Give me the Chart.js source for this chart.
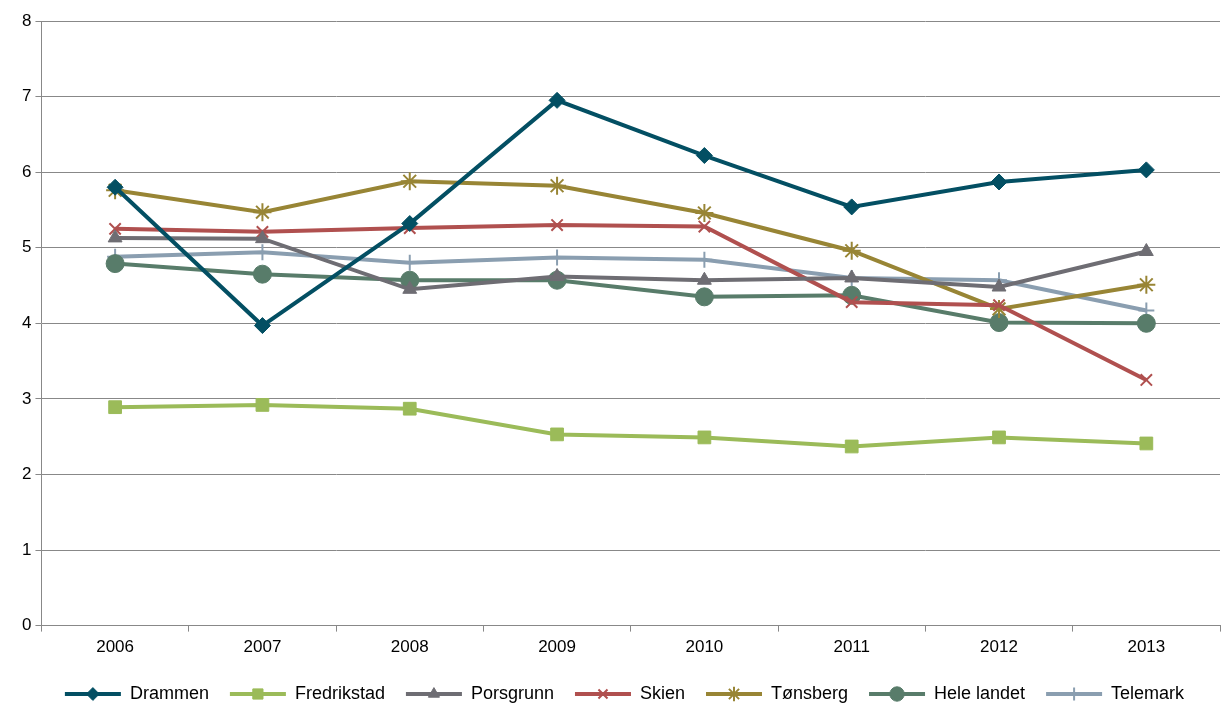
<!DOCTYPE html><html><head><script src="https://cdn.jsdelivr.net/npm/chart.js@4"></script>
<style>html,body{margin:0;background:#fff}#w{width:1231px;height:713px}</style></head><body><div id="w"><canvas id="c"></canvas></div>
<script>
const categories=['2006','2007','2008','2009','2010','2011','2012','2013'];
const drammen=[5.8,3.97,5.32,6.95,6.22,5.54,5.87,6.03];
const fredrikstad=[2.89,2.92,2.87,2.53,2.49,2.37,2.49,2.41];
const porsgrunn=[5.13,5.12,4.45,4.62,4.57,4.6,4.48,4.95];
const skien=[5.25,5.21,5.26,5.3,5.28,4.28,4.24,3.25];
const tonsberg=[5.76,5.47,5.88,5.82,5.46,4.96,4.19,4.51];
const heleLandet=[4.79,4.65,4.57,4.57,4.35,4.37,4.01,4.0];
const telemark=[4.88,4.94,4.8,4.87,4.84,4.6,4.57,4.17];
const yTicks=[0,1,2,3,4,5,6,7,8];
Chart.defaults.font.family='"Liberation Sans", Arial, sans-serif';
Chart.defaults.font.size=17;Chart.defaults.color='#000';
function ds(label,data,color,style,r){return{label,data,borderColor:color,backgroundColor:color,pointStyle:style,pointRadius:r,pointHoverRadius:r,borderWidth:4,tension:0,pointBorderWidth:style==='cross'||style==='crossRot'||style==='star'?2:1}}
const legendMarks={id:'legendMarks',afterDraw(ch){const lg=ch.legend;if(!lg||!lg.legendHitBoxes)return;const c=ch.ctx;
lg.legendHitBoxes.forEach((h,i)=>{const d=ch.data.datasets[i];const x=h.left+28,y=h.top+h.height/2;
c.save();c.fillStyle=d.borderColor;c.strokeStyle=d.borderColor;c.lineWidth=d.pointBorderWidth;
Chart.helpers.drawPoint(c,{pointStyle:d.pointStyle,radius:d.pointRadius*0.8,borderWidth:d.pointBorderWidth},x,y);c.restore();});}};
new Chart(document.getElementById('c'),{type:'line',data:{labels:categories,datasets:[
ds('Drammen',drammen,'#034F63','rectRot',8),
ds('Fredrikstad',fredrikstad,'#9BBB59','rect',9),
ds('Porsgrunn',porsgrunn,'#6E6D73','triangle',8),
ds('Skien',skien,'#B0504F','crossRot',8),
ds('Tønsberg',tonsberg,'#988535','star',9),
ds('Hele landet',heleLandet,'#587C6A','circle',9),
ds('Telemark',telemark,'#8A9EB0','cross',8)]},
plugins:[legendMarks],
options:{responsive:true,maintainAspectRatio:false,animation:false,
layout:{padding:{left:18,right:0,top:21,bottom:0}},
plugins:{legend:{position:'bottom',labels:{font:{size:18},boxWidth:56,boxHeight:4,padding:21,
generateLabels(ch){return ch.data.datasets.map((d,i)=>({text:d.label,fillStyle:d.borderColor,strokeStyle:d.borderColor,lineWidth:0,datasetIndex:i}))}}},tooltip:{enabled:false}},
scales:{x:{offset:true,grid:{display:true,drawOnChartArea:false,offset:true,color:'#888',tickLength:6},border:{color:'#888'},ticks:{padding:6}},
y:{min:0,max:8,afterBuildTicks(a){a.ticks=yTicks.map(v=>({value:v}))},grid:{color:'#888',tickLength:6},border:{color:'#888'},ticks:{padding:4}}}}});
</script></body></html>
